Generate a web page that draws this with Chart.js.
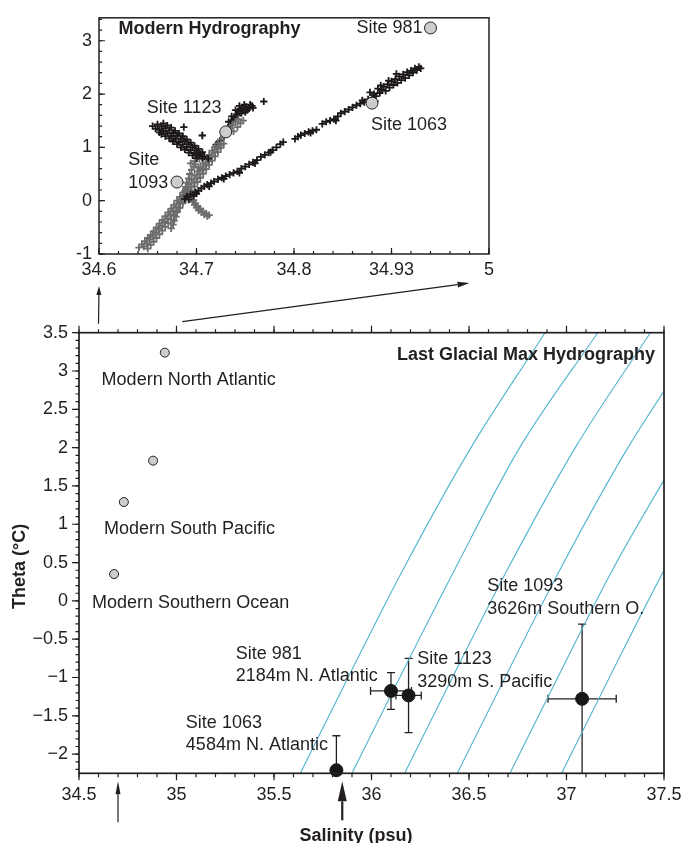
<!DOCTYPE html>
<html>
<head>
<meta charset="utf-8">
<script src="https://cdn.jsdelivr.net/npm/chart.js@4.4.1/dist/chart.umd.min.js"></script>
<style>
  html, body { margin: 0; padding: 0; background: #fff; }
  #wrap { position: relative; width: 684px; height: 843px; }
  #wrap canvas { position: absolute; left: 0; top: 0; }
</style>
</head>
<body>
<div id="wrap">
  <canvas id="insetChart" width="684" height="843"></canvas>
  <canvas id="mainChart" width="684" height="843"></canvas>
</div>
<script>
'use strict'
//==================================================================================================
// data

// modern bottom water at the sites (grey circles, both panels)
const modernSal = [34.94, 34.88, 34.73, 34.68];
const modernTheta = [3.24, 1.83, 1.29, 0.35];

// LGM reconstructions: 981, 1123, 1093, 1063
const lgmSal = [36.10, 36.19, 37.08, 35.82];
const lgmTheta = [-1.175, -1.234, -1.278, -2.21];
const lgmSalErr = [0.105, 0.065, 0.175, 0];
const lgmThetaErr = [0.24, 0.485, 0.975, 0.45];

// isopycnals (cyan), salinity read at these theta levels
const isoTheta = [-2.25, -1, 0.4, 2, 3.5];
const isoSal1 = [35.635, 35.88, 36.16, 36.51, 36.89];
const isoSal2 = [35.90, 36.145, 36.425, 36.76, 37.16];
const isoSal3 = [36.17, 36.415, 36.695, 37.045, 37.43];
const isoSal4 = [36.44, 36.685, 36.965, 37.315, 37.70];
const isoSal5 = [36.71, 36.955, 37.235, 37.60, 37.97];
const isoSal6 = [36.975, 37.22, 37.50, 37.85, 38.23];

// modern hydrography profiles (inset), [salinity, theta]
const blackTrackA = [
  [34.688,0.03],[34.690,0.08],[34.692,0.02],[34.694,0.12],[34.697,0.09],[34.699,0.16],[34.702,0.19],
  [34.705,0.23],[34.708,0.27],[34.711,0.30],[34.715,0.33],[34.718,0.36],[34.722,0.40],[34.726,0.43],
  [34.730,0.46],[34.734,0.49],[34.738,0.52],[34.742,0.55],[34.746,0.60],[34.750,0.64],[34.754,0.68],
  [34.758,0.72],[34.762,0.76],[34.766,0.82],[34.770,0.86],[34.774,0.90],[34.778,0.95],[34.782,1.00],
  [34.786,1.06],[34.789,1.10],
  [34.700,0.13],[34.713,0.27],[34.728,0.41],[34.744,0.52],[34.760,0.70],[34.776,0.91],
  [34.801,1.16],[34.804,1.20],[34.807,1.23],[34.811,1.26],[34.815,1.29],[34.819,1.31],[34.823,1.33],
  [34.817,1.27],
  [34.829,1.44],[34.833,1.48],[34.837,1.50],[34.841,1.53],[34.845,1.58],[34.848,1.64],[34.852,1.67],
  [34.856,1.71],[34.860,1.75],[34.864,1.79],[34.868,1.82],[34.872,1.85],[34.876,1.90],[34.843,1.50],
  [34.870,1.88],[34.883,1.87],
  [34.878,2.03],[34.882,2.00],[34.886,2.10],[34.888,2.02],[34.890,2.08],[34.892,2.14],[34.894,2.06],
  [34.896,2.18],[34.898,2.12],[34.900,2.24],[34.902,2.17],[34.904,2.28],[34.906,2.21],[34.908,2.33],
  [34.910,2.26],[34.912,2.37],[34.914,2.30],[34.916,2.41],[34.918,2.35],[34.920,2.44],[34.922,2.40],
  [34.924,2.48],[34.926,2.45],[34.928,2.51],[34.930,2.48],[34.905,2.38],[34.897,2.25],[34.889,2.16],
  [34.884,1.96],[34.880,1.93]
];
const blackTrackB = [
  [34.655,1.40],[34.660,1.43],[34.664,1.40],[34.668,1.36],[34.672,1.32],[34.676,1.27],[34.680,1.22],
  [34.684,1.17],[34.688,1.12],[34.692,1.06],[34.696,1.00],[34.700,0.94],[34.704,0.88],[34.708,0.83],
  [34.712,0.79],
  [34.658,1.35],[34.662,1.33],[34.666,1.30],[34.670,1.26],[34.674,1.21],[34.678,1.16],[34.682,1.10],
  [34.686,1.05],[34.690,1.00],[34.694,0.95],[34.698,0.89],[34.702,0.84],[34.706,0.80],
  [34.666,1.45],[34.670,1.41],[34.674,1.37],[34.678,1.31],[34.682,1.26],[34.686,1.21],[34.690,1.15],
  [34.694,1.09],[34.698,1.03],[34.702,0.97],[34.706,0.91],
  [34.664,1.25],[34.668,1.21],[34.672,1.17],[34.676,1.11],[34.680,1.06],[34.684,1.00],[34.688,0.96],
  [34.692,0.90],[34.696,0.85],[34.700,0.80],
  [34.662,1.28],[34.676,1.12],[34.687,1.38],[34.706,1.22]
];
const blackArm = [
  [34.720,1.05],[34.724,1.12],[34.728,1.20],[34.732,1.30],[34.735,1.42],[34.737,1.50],[34.739,1.56],
  [34.741,1.62],[34.743,1.68],[34.745,1.72],[34.748,1.74],[34.751,1.76],[34.754,1.73],[34.757,1.78],
  [34.746,1.64],[34.750,1.66],[34.740,1.70],[34.736,1.58],[34.733,1.48],[34.769,1.86],
  [34.744,1.78],[34.749,1.80],[34.752,1.70],[34.747,1.69],[34.742,1.60],[34.738,1.52],[34.755,1.80],
  [34.758,1.74]
];
const grayTrackC = [
  [34.641,-0.88],[34.644,-0.82],[34.647,-0.76],[34.650,-0.70],[34.653,-0.64],[34.656,-0.57],[34.659,-0.50],
  [34.662,-0.43],[34.665,-0.36],[34.668,-0.29],[34.671,-0.22],[34.674,-0.15],[34.677,-0.08],[34.680,0.00],
  [34.683,0.07],[34.686,0.15],[34.689,0.23],[34.692,0.31],[34.695,0.39],[34.698,0.47],[34.701,0.55],
  [34.704,0.62],[34.707,0.70],[34.710,0.78],[34.713,0.86],[34.716,0.94],[34.719,1.01],[34.722,1.08],
  [34.725,1.15],[34.728,1.21],[34.731,1.28],[34.734,1.35],[34.737,1.42],[34.740,1.48],[34.743,1.53],
  [34.646,-0.86],[34.649,-0.80],[34.652,-0.73],[34.655,-0.66],[34.658,-0.60],[34.661,-0.53],[34.664,-0.47],
  [34.667,-0.40],[34.670,-0.33],[34.673,-0.26],[34.676,-0.19],[34.679,-0.12],[34.682,-0.04],[34.685,0.04],
  [34.688,0.11],[34.691,0.18],[34.694,0.26],[34.697,0.34],[34.700,0.42],[34.703,0.50],[34.706,0.58],
  [34.709,0.66],[34.712,0.74],[34.715,0.82],[34.718,0.90],[34.721,0.97],[34.724,1.04],
  [34.650,-0.90],[34.653,-0.83],[34.656,-0.77],[34.659,-0.70],[34.662,-0.63],[34.665,-0.56],[34.668,-0.49],
  [34.671,-0.42],[34.674,-0.35],[34.677,-0.28],[34.680,-0.21],[34.683,-0.13],[34.686,-0.05],[34.689,0.03],
  [34.692,0.11],[34.695,0.19],[34.698,0.27],[34.701,0.35],[34.704,0.43],[34.707,0.51],[34.710,0.59],
  [34.713,0.67],[34.716,0.75],[34.719,0.83],[34.722,0.91],[34.725,0.99],[34.728,1.07],
  [34.745,1.45],[34.748,1.50],[34.738,1.30],[34.742,1.38]
];
const grayTrackD = [
  [34.674,-0.52],[34.676,-0.45],[34.677,-0.38],[34.679,-0.30],[34.680,-0.22],[34.682,-0.14],[34.683,-0.06],
  [34.685,0.02],[34.686,0.10],[34.688,0.18],[34.689,0.26],[34.690,0.34],[34.692,0.42],[34.693,0.50],
  [34.695,0.58],[34.697,0.64],[34.699,0.68],[34.702,0.62],[34.694,0.70],[34.698,0.74],[34.703,0.78],
  [34.700,0.86],[34.706,1.23]
];
const grayHook = [
  [34.690,0.20],[34.692,0.12],[34.694,0.05],[34.696,-0.02],[34.698,-0.08],[34.700,-0.13],[34.702,-0.18],
  [34.705,-0.22],[34.708,-0.26],[34.711,-0.29],[34.713,-0.27],
  [34.693,0.15],[34.695,0.08],[34.697,0.01],[34.699,-0.05],[34.701,-0.10],[34.704,-0.15],[34.707,-0.20],
  [34.710,-0.24]
];

// axes
const mainSalTicks = [34.5, 35, 35.5, 36, 36.5, 37, 37.5];
const mainThetaTicks = [3.5, 3, 2.5, 2, 1.5, 1, 0.5, 0, -0.5, -1, -1.5, -2];
const insetSalTicks = [34.6, 34.7, 34.8, 34.9, 35.0];
const insetSalLabels = ['34.6', '34.7', '34.8', '34.93', '5'];
const insetThetaTicks = [-1, 0, 1, 2, 3];

// text notes [salinity, theta, text]
const mainNotes = [
  [34.616, 2.883, 'Modern North Atlantic'],
  [34.628, 0.937, 'Modern South Pacific'],
  [34.567, -0.029, 'Modern Southern Ocean'],
  [35.304, -0.695, 'Site 981'], [35.304, -0.982, '2184m N. Atlantic'],
  [35.048, -1.591, 'Site 1063'], [35.048, -1.883, '4584m N. Atlantic'],
  [36.234, -0.760, 'Site 1123'], [36.234, -1.056, '3290m S. Pacific'],
  [36.593, 0.193, 'Site 1093'], [36.593, -0.107, '3626m Southern O.']
];
const mainTitle = [37.454, 3.209, 'Last Glacial Max Hydrography'];
const insetNotes = [
  [34.864, 3.24, 'Site 981'],
  [34.649, 1.74, 'Site 1123'],
  [34.879, 1.42, 'Site 1063'],
  [34.630, 0.77, 'Site'], [34.630, 0.34, '1093']
];
const insetTitle = [34.620, 3.21, 'Modern Hydrography'];

// axis titles: text and where along the axis they sit
const salTitle = ['Salinity (psu)', 35.92];
const thetaTitle = ['Theta (\u00B0C)', 0.45];

// arrows under the salinity axis, and links main -> inset
const pointerSal = [34.7, 35.85];
const linkSalMain = [34.6, 35.03];
const linkSalInset = [34.6, 34.98];

//==================================================================================================

const fontFamily = "'Liberation Sans', Arial, sans-serif";
const inkColor = '#231f20';
Chart.defaults.font.family = fontFamily;
Chart.defaults.font.size = 18;
Chart.defaults.color = inkColor;

function pairs(sal, theta){
  return sal.map((s, i) => ({ x: s, y: theta[i] }));
}
function track(list){
  return list.map((p) => ({ x: p[0], y: p[1] }));
}
function stepValues(min, max, step){
  const out = [];
  for(let v = min; v <= max + 1e-9; v += step)
    out.push(Math.round(v * 1000) / 1000);
  return out;
}
function minusSign(v){
  return String(v).replace('-', '\u2212');
}

// tick marks along an axis line; len > 0 points to larger pixel coords
function tickSet(ctx, scale, values, edge, len){
  ctx.beginPath();
  values.forEach((v) => {
    const p = scale.getPixelForValue(v);
    if(scale.isHorizontal()){
      ctx.moveTo(p, edge);
      ctx.lineTo(p, edge + len);
    }
    else{
      ctx.moveTo(edge, p);
      ctx.lineTo(edge + len, p);
    }
  });
  ctx.stroke();
}

function drawNotes(chart, notes, bold, align){
  const {ctx, scales: {x, y}} = chart;
  ctx.save();
  ctx.fillStyle = inkColor;
  ctx.font = (bold ? 'bold ' : '') + '18px ' + fontFamily;
  ctx.textAlign = align;
  ctx.textBaseline = 'middle';
  notes.forEach((n) => {
    ctx.fillText(n[2], x.getPixelForValue(n[0]), y.getPixelForValue(n[1]));
  });
  ctx.restore();
}

function arrow(ctx, x1, y1, x2, y2, headLen, headHalf, width){
  const ang = Math.atan2(y2 - y1, x2 - x1);
  const bx = x2 - headLen * Math.cos(ang);
  const by = y2 - headLen * Math.sin(ang);
  ctx.save();
  ctx.strokeStyle = inkColor;
  ctx.fillStyle = inkColor;
  ctx.lineWidth = width;
  ctx.beginPath();
  ctx.moveTo(x1, y1);
  ctx.lineTo(bx, by);
  ctx.stroke();
  ctx.beginPath();
  ctx.moveTo(x2, y2);
  ctx.lineTo(bx + headHalf * Math.sin(ang), by - headHalf * Math.cos(ang));
  ctx.lineTo(bx - headHalf * Math.sin(ang), by + headHalf * Math.cos(ang));
  ctx.closePath();
  ctx.fill();
  ctx.restore();
}

// error bars of the LGM points
function drawErrorBars(chart){
  const {ctx, chartArea, scales: {x, y}} = chart;
  const cap = 4;
  ctx.save();
  ctx.beginPath();
  ctx.rect(chartArea.left, chartArea.top - 2, chartArea.width, chartArea.height + 3);
  ctx.clip();
  ctx.strokeStyle = inkColor;
  ctx.lineWidth = 1.3;
  lgmSal.forEach((s, i) => {
    const px = x.getPixelForValue(s);
    const py = y.getPixelForValue(lgmTheta[i]);
    ctx.beginPath();
    if(lgmThetaErr[i]){
      const top = y.getPixelForValue(lgmTheta[i] + lgmThetaErr[i]);
      const bot = y.getPixelForValue(lgmTheta[i] - lgmThetaErr[i]);
      ctx.moveTo(px, top); ctx.lineTo(px, bot);
      ctx.moveTo(px - cap, top); ctx.lineTo(px + cap, top);
      ctx.moveTo(px - cap, bot); ctx.lineTo(px + cap, bot);
    }
    if(lgmSalErr[i]){
      const lft = x.getPixelForValue(s - lgmSalErr[i]);
      const rgt = x.getPixelForValue(s + lgmSalErr[i]);
      ctx.moveTo(lft, py); ctx.lineTo(rgt, py);
      ctx.moveTo(lft, py - cap); ctx.lineTo(lft, py + cap);
      ctx.moveTo(rgt, py - cap); ctx.lineTo(rgt, py + cap);
    }
    ctx.stroke();
  });
  ctx.restore();
}

//==================================================================================================
// inset: modern hydrography

const insetExtras = {
  id: 'insetExtras',
  afterDraw(chart){
    const {ctx, chartArea, scales: {x, y}} = chart;
    ctx.save();
    ctx.strokeStyle = inkColor;
    ctx.lineWidth = 1.5;
    ctx.strokeRect(chartArea.left, chartArea.top, chartArea.width, chartArea.height);
    ctx.lineWidth = 1.2;
    tickSet(ctx, x, insetSalTicks, chartArea.bottom, -6);
    tickSet(ctx, x, stepValues(34.6, 35.0, 0.02), chartArea.bottom, -3);
    tickSet(ctx, y, insetThetaTicks, chartArea.left, 6);
    tickSet(ctx, y, stepValues(-1, 3.4, 0.2), chartArea.left, 3);
    ctx.restore();
    drawNotes(chart, insetNotes, false, 'left');
    drawNotes(chart, [insetTitle], true, 'left');
  }
};

const crossStyle = { pointStyle: 'cross', pointRadius: 3.6, borderWidth: 1.8 };
const blackCross = '#1c1818';
const grayCross = '#6c6c6c';

const insetChart = new Chart(document.getElementById('insetChart'), {
  type: 'scatter',
  data: {
    datasets: [
      { data: pairs(modernSal, modernTheta), pointRadius: 6, backgroundColor: '#cdcdcd',
        borderColor: inkColor, borderWidth: 1, order: 0 },
      Object.assign({ data: track(blackTrackA), borderColor: blackCross, order: 1 }, crossStyle),
      Object.assign({ data: track(blackTrackB), borderColor: blackCross, order: 1 }, crossStyle),
      Object.assign({ data: track(grayHook), borderColor: grayCross, order: 2 }, crossStyle),
      Object.assign({ data: track(grayTrackD), borderColor: grayCross, order: 2 }, crossStyle),
      Object.assign({ data: track(grayTrackC), borderColor: grayCross, order: 2 }, crossStyle),
      Object.assign({ data: track(blackArm), borderColor: blackCross, order: 3 }, crossStyle)
    ]
  },
  options: {
    responsive: false,
    animation: false,
    events: [],
    layout: { padding: { left: 0, top: 15, right: 195, bottom: 543 } },
    plugins: { legend: { display: false }, tooltip: { enabled: false } },
    scales: {
      x: {
        type: 'linear', min: 34.6, max: 35.0,
        afterFit: (s) => { s.height = 46; s.paddingLeft = 0; s.paddingRight = 0; },
        afterBuildTicks: (s) => { s.ticks = insetSalTicks.map((v) => ({ value: v })); },
        grid: { display: false, drawTicks: false },
        border: { display: false },
        ticks: { padding: 5, maxRotation: 0, autoSkip: false, callback: (v, i) => insetSalLabels[i] }
      },
      y: {
        type: 'linear', min: -1, max: 3.43,
        afterFit: (s) => { s.width = 99; },
        afterBuildTicks: (s) => { s.ticks = insetThetaTicks.map((v) => ({ value: v })); },
        grid: { display: false, drawTicks: false },
        border: { display: false },
        ticks: { padding: 7, callback: (v) => String(v) }
      }
    }
  },
  plugins: [insetExtras]
});

//==================================================================================================
// main panel: LGM hydrography

const mainExtras = {
  id: 'mainExtras',
  beforeDatasetsDraw(chart){
    drawErrorBars(chart);
  },
  afterDraw(chart){
    const {ctx, chartArea, scales: {x, y}} = chart;
    ctx.save();
    ctx.strokeStyle = inkColor;
    ctx.lineWidth = 1.7;
    ctx.strokeRect(chartArea.left, chartArea.top, chartArea.width, chartArea.height);
    ctx.lineWidth = 1.2;
    tickSet(ctx, x, mainSalTicks, chartArea.bottom, 7);
    tickSet(ctx, x, stepValues(34.5, 37.5, 0.1), chartArea.bottom, 4);
    tickSet(ctx, x, mainSalTicks, chartArea.top, -7);
    tickSet(ctx, x, stepValues(34.5, 37.5, 0.1), chartArea.top, -3.5);
    tickSet(ctx, y, mainThetaTicks, chartArea.left, -7);
    tickSet(ctx, y, stepValues(-2.2, 3.5, 0.1), chartArea.left, -3.5);

    // axis titles
    ctx.fillStyle = inkColor;
    ctx.font = 'bold 18px ' + fontFamily;
    ctx.textAlign = 'center';
    ctx.textBaseline = 'middle';
    ctx.fillText(salTitle[0], x.getPixelForValue(salTitle[1]), chartArea.bottom + 63);
    ctx.translate(chartArea.left - 59, y.getPixelForValue(thetaTitle[1]));
    ctx.rotate(-Math.PI / 2);
    ctx.fillText(thetaTitle[0], 0, 0);
    ctx.restore();

    drawNotes(chart, mainNotes, false, 'left');
    drawNotes(chart, [mainTitle], true, 'right');

    // pointers below the salinity axis
    const ia = insetChart.chartArea;
    const ix = insetChart.scales.x;
    const p0 = x.getPixelForValue(pointerSal[0]);
    const p1 = x.getPixelForValue(pointerSal[1]);
    arrow(ctx, p0, chartArea.bottom + 49, p0, chartArea.bottom + 8, 13, 2.5, 1.2);
    arrow(ctx, p1, chartArea.bottom + 47, p1, chartArea.bottom + 8, 20, 4.5, 2.2);
    // links up to the inset
    arrow(ctx, x.getPixelForValue(linkSalMain[0]), chartArea.top - 9,
      ix.getPixelForValue(linkSalInset[0]), ia.bottom + 32, 9, 2.5, 1.2);
    arrow(ctx, x.getPixelForValue(linkSalMain[1]), chartArea.top - 11,
      ix.getPixelForValue(linkSalInset[1]), ia.bottom + 29, 12, 3, 1.2);
  }
};

function isoLine(sal){
  return { data: pairs(sal, isoTheta), showLine: true, pointRadius: 0, borderColor: '#52b4cf',
    borderWidth: 1.1, cubicInterpolationMode: 'monotone', order: 5 };
}

const mainChart = new Chart(document.getElementById('mainChart'), {
  type: 'scatter',
  data: {
    datasets: [
      { data: pairs(lgmSal, lgmTheta), pointRadius: 6.5, backgroundColor: '#1a1717',
        borderColor: '#1a1717', borderWidth: 1, clip: false, order: 0 },
      { data: pairs(modernSal, modernTheta), pointRadius: 4.5, backgroundColor: '#cdcdcd',
        borderColor: inkColor, borderWidth: 1, order: 0 },
      isoLine(isoSal1), isoLine(isoSal2), isoLine(isoSal3),
      isoLine(isoSal4), isoLine(isoSal5), isoLine(isoSal6)
    ]
  },
  options: {
    responsive: false,
    animation: false,
    events: [],
    layout: { padding: { left: 0, top: 332.7, right: 20, bottom: 0 } },
    plugins: { legend: { display: false }, tooltip: { enabled: false } },
    scales: {
      x: {
        type: 'linear', min: 34.5, max: 37.5,
        afterFit: (s) => { s.height = 69.7; s.paddingLeft = 0; s.paddingRight = 0; },
        afterBuildTicks: (s) => { s.ticks = mainSalTicks.map((v) => ({ value: v })); },
        grid: { display: false, drawTicks: false },
        border: { display: false },
        ticks: { padding: 11, maxRotation: 0, autoSkip: false, callback: (v) => String(v) }
      },
      y: {
        type: 'linear', min: -2.25, max: 3.5,
        afterFit: (s) => { s.width = 79; },
        afterBuildTicks: (s) => { s.ticks = mainThetaTicks.map((v) => ({ value: v })); },
        grid: { display: false, drawTicks: false },
        border: { display: false },
        ticks: { padding: 11, callback: (v) => minusSign(v) }
      }
    }
  },
  plugins: [mainExtras]
});
</script>
</body>
</html>
